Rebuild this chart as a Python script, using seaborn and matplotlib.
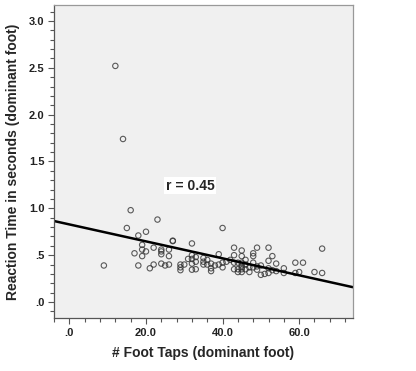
import numpy as np
import pandas as pd
import matplotlib
matplotlib.use("Agg")
import matplotlib.pyplot as plt
from matplotlib.ticker import MultipleLocator, FuncFormatter
import seaborn as sns

# Foot taps (dominant foot) and reaction time in seconds
foot_taps = [9, 12, 14, 15, 16, 17, 18, 18, 19, 19, 19, 20, 20, 21, 22, 22, 23,
             24, 24, 24, 24, 25, 26, 26, 26, 27, 27, 29, 29, 29, 30, 31, 32, 32,
             32, 32, 32, 33, 33, 33, 35, 35, 35, 36, 36, 37, 37, 37, 38, 39, 39,
             40, 40, 40, 41, 42, 43, 43, 43, 43, 44, 44, 44, 45, 45, 45, 45, 45,
             45, 45, 46, 46, 46, 47, 47, 48, 48, 48, 48, 49, 49, 49, 50, 50, 51,
             52, 52, 52, 52, 53, 53, 54, 54, 56, 56, 59, 59, 60, 61, 64, 66, 66]
reaction_time = [0.39, 2.52, 1.74, 0.79, 0.98, 0.52, 0.71, 0.39, 0.61, 0.56, 0.49,
                 0.75, 0.54, 0.36, 0.58, 0.40, 0.88, 0.56, 0.54, 0.51, 0.41, 0.39,
                 0.56, 0.49, 0.40, 0.655, 0.65, 0.40, 0.37, 0.34, 0.40, 0.46, 0.625,
                 0.50, 0.46, 0.41, 0.345, 0.48, 0.43, 0.35, 0.47, 0.43, 0.40, 0.45,
                 0.40, 0.41, 0.36, 0.33, 0.39, 0.51, 0.40, 0.79, 0.42, 0.37, 0.43,
                 0.45, 0.58, 0.50, 0.42, 0.35, 0.42, 0.35, 0.32, 0.55, 0.49, 0.42,
                 0.39, 0.37, 0.35, 0.32, 0.45, 0.40, 0.35, 0.37, 0.32, 0.52, 0.49,
                 0.42, 0.37, 0.58, 0.38, 0.345, 0.39, 0.29, 0.30, 0.58, 0.44, 0.36,
                 0.31, 0.49, 0.34, 0.41, 0.33, 0.36, 0.31, 0.42, 0.31, 0.32, 0.42,
                 0.32, 0.57, 0.31]
r_label = "r = 0.45"

df = pd.DataFrame({"taps": foot_taps, "rt": reaction_time})

sns.set_style("ticks")
plt.rcParams['font.family'] = ['Liberation Sans', 'DejaVu Sans']
plt.rcParams['font.weight'] = 'bold'

fig = plt.figure(figsize=(4.16, 3.71), dpi=100)
ax = fig.add_axes([0.130, 0.143, 0.718, 0.8435])
ax.set_facecolor('#f0f0f0')

# limits first so the fit line spans the whole axis
ax.set_xlim(-4, 74)
ax.set_ylim(-0.17, 3.17)

sns.regplot(
    x='taps', y='rt', data=df, ax=ax, ci=None, truncate=False,
    scatter_kws=dict(s=15, facecolors='none', edgecolors='#333333', linewidths=0.8),
    line_kws=dict(color='black', linewidth=1.8)
)

ax.set_xlim(-4, 74)
ax.set_ylim(-0.17, 3.17)
ax.xaxis.set_major_locator(MultipleLocator(20))
ax.xaxis.set_minor_locator(MultipleLocator(4))
ax.yaxis.set_major_locator(MultipleLocator(0.5))
ax.yaxis.set_minor_locator(MultipleLocator(0.1))
fmt = FuncFormatter(lambda v, p: f"{v:.1f}".lstrip('0') if abs(v) < 1 else f"{v:.1f}")
ax.xaxis.set_major_formatter(fmt)
ax.yaxis.set_major_formatter(fmt)

ax.tick_params(which='both', direction='out', color='#555555', width=0.8)
ax.tick_params(which='major', length=4, labelsize=8, labelcolor='#222222', pad=3)
ax.tick_params(which='minor', length=3)
for side in ['left', 'bottom']:
    ax.spines[side].set_color('#555555')
for side in ['right', 'top']:
    ax.spines[side].set_color('#999999')
for s in ax.spines.values():
    s.set_linewidth(0.9)

ax.set_xlabel('# Foot Taps (dominant foot)', fontsize=10, fontweight='bold', labelpad=6)
ax.set_ylabel('Reaction Time in seconds (dominant foot)', fontsize=10,
              fontweight='bold', labelpad=6)

ax.text(31.5, 1.24, r_label, fontsize=10, fontweight='bold', ha='center', va='center',
        bbox=dict(facecolor='white', edgecolor='none', pad=1))

fig.savefig('out.png', dpi=100)
